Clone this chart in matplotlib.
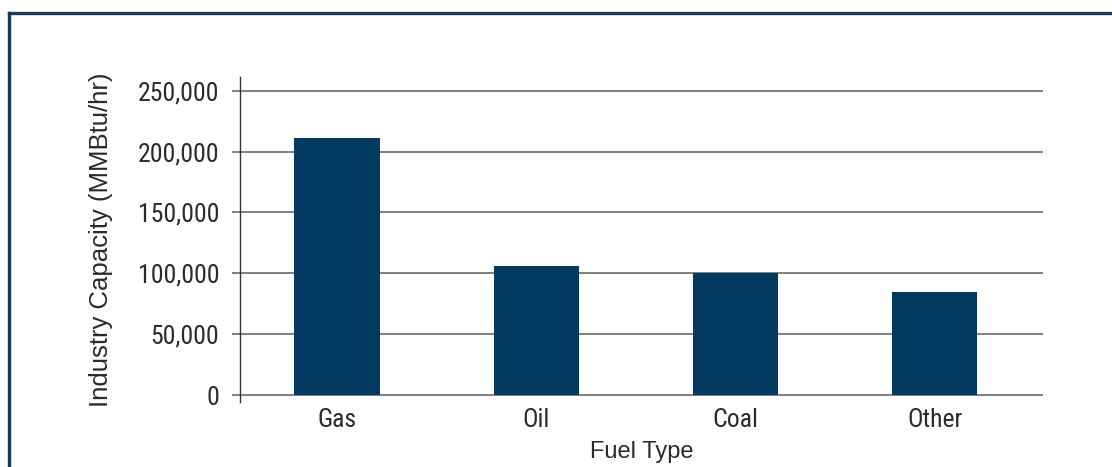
import matplotlib
matplotlib.use("Agg")
import matplotlib.pyplot as plt
from matplotlib.lines import Line2D
from matplotlib import font_manager as fm
from matplotlib.ticker import FuncFormatter

categories = ["Gas", "Oil", "Coal", "Other"]
capacity = [211000, 106000, 100000, 85000]
yticks = [0, 50000, 100000, 150000, 200000, 250000]

names = sorted({f.name for f in fm.fontManager.ttflist})
narrow = None
for cand in ["Liberation Sans Narrow", "Roboto Condensed", "Open Sans Condensed",
             "DejaVu Sans Condensed", "Noto Sans Condensed"]:
    if cand in names:
        narrow = cand
        break
regular = "Liberation Sans" if "Liberation Sans" in names else "DejaVu Sans"

W, H = 1112, 467
fig = plt.figure(figsize=(W / 100, H / 100), dpi=100)
fig.patch.set_facecolor("white")

left, right, top, bottom = 240, 1043, 77, 402
ax = fig.add_axes([left / W, 1 - bottom / H, (right - left) / W, (bottom - top) / H])

bar_color = "#033a62"
grid_color = "#5c5c5c"
text_color = "#2a2a2a"

x = list(range(len(categories)))
ax.bar(x, capacity, width=0.427, color=bar_color, zorder=3)

ax.set_xlim(-0.487, 3.544)
ax.set_ylim(-5750, 261250)
ax.set_yticks(yticks)
ax.yaxis.set_major_formatter(FuncFormatter(lambda v, p: f"{int(v):,}"))
ax.grid(axis="y", color=grid_color, linewidth=1.1, zorder=1)
ax.set_axisbelow(True)

for s in ["top", "right", "bottom"]:
    ax.spines[s].set_visible(False)
ax.spines["left"].set_color("#333333")
ax.spines["left"].set_linewidth(1.0)

ax.tick_params(axis="y", direction="out", length=6, width=1.1, color=grid_color, pad=9)
ax.tick_params(axis="x", length=0, pad=4)
ax.set_xticks(x)
ax.set_xticklabels(categories)

if narrow:
    tick_family, ysize, xsize = narrow, 18.5, 18.5
else:
    tick_family, ysize, xsize = regular, 16, 15.5
for lab in ax.get_yticklabels():
    lab.set_fontfamily(tick_family)
    lab.set_fontsize(ysize)
    lab.set_color(text_color)
for lab in ax.get_xticklabels():
    lab.set_fontfamily(tick_family)
    lab.set_fontsize(xsize)
    lab.set_color(text_color)

ax.set_xlabel("Fuel Type", fontfamily=regular, fontsize=17, color=text_color, labelpad=7)
ax.set_ylabel("Industry Capacity (MMBtu/hr)", fontfamily=regular, fontsize=18.5,
              color=text_color, labelpad=18)

frame_color = "#1d3a52"
fig.add_artist(Line2D([9 / W, 9 / W], [0, 1 - 13 / H], transform=fig.transFigure,
                      color=frame_color, linewidth=2.4))
fig.add_artist(Line2D([9 / W, 1], [1 - 13 / H, 1 - 13 / H], transform=fig.transFigure,
                      color=frame_color, linewidth=2.4))

fig.savefig("out.png", dpi=100, facecolor="white")
